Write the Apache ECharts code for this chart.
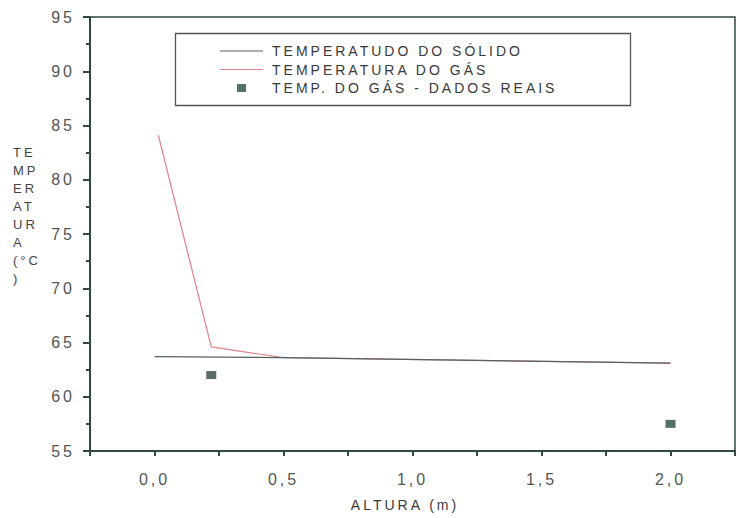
<!DOCTYPE html>
<html>
<head>
<meta charset="utf-8">
<script src="https://cdn.jsdelivr.net/npm/echarts@6/dist/echarts.min.js"></script>
<style>
  html, body { margin: 0; padding: 0; background: #fff; }
  #chart { width: 738px; height: 518px; }
  #chart text { letter-spacing: 3px; }
</style>
</head>
<body>
<div id="chart"></div>
<script>
// ---- data ----
const serieNames = ['TEMPERATUDO DO SÓLIDO', 'TEMPERATURA DO GÁS', 'TEMP. DO GÁS - DADOS REAIS'];
const alturaSolido = [0.0, 0.5, 2.0];
const tempSolido   = [63.7, 63.6, 63.1];
const alturaGas    = [0.015, 0.22, 0.5, 2.0];
const tempGas      = [84.1, 64.6, 63.6, 63.1];
const alturaReal   = [0.22, 2.0];
const tempReal     = [62.0, 57.5];
const xTickLabels  = ['0,0', '0,5', '1,0', '1,5', '2,0'];
const yTickLabels  = ['55', '60', '65', '70', '75', '80', '85', '90', '95'];
const xName = 'ALTURA (m)';
const yName = 'TE\nMP\nER\nAT\nUR\nA\n(°C\n)';

const pair = (xs, ys) => xs.map((x, i) => [x, ys[i]]);
const AX = '#2f4a45';
const FONT = '"Liberation Sans", Arial, sans-serif';
const LINE_ICON = 'path://M0,0M43,14M0,6.4h43v1.2h-43z';

const chart = echarts.init(document.getElementById('chart'), null, { renderer: 'svg' });
chart.setOption({
  backgroundColor: '#ffffff',
  animation: false,
  title: {
    text: yName, left: 13, top: 143, padding: 0,
    textStyle: { fontFamily: FONT, fontSize: 13, fontWeight: 'normal', color: '#444', lineHeight: 18 }
  },
  grid: { left: 90, right: -7, top: 17, bottom: 67, show: true, borderColor: AX, borderWidth: 1.5, backgroundColor: 'transparent' },
  graphic: [{
    type: 'rect', left: 173, top: 31, z: 0,
    shape: { width: 455, height: 72 },
    style: { fill: 'none', stroke: '#555', lineWidth: 1.3 }
  }],
  legend: {
    orient: 'vertical', left: 220, top: 44,
    itemWidth: 43, itemHeight: 14, itemGap: 4.5,
    padding: 0,
    textStyle: { fontFamily: FONT, fontSize: 14, color: '#3a3a3a', padding: [0, 0, 0, 4] },
    data: [
      { name: serieNames[0], icon: LINE_ICON },
      { name: serieNames[1], icon: LINE_ICON },
      { name: serieNames[2], icon: 'path://M0,0M43,14M17,3h9v8h-9z' }
    ]
  },
  xAxis: {
    type: 'value', min: -0.25, max: 2.25, interval: 0.25,
    name: xName, nameLocation: 'middle', nameGap: 47,
    nameTextStyle: { fontFamily: FONT, fontSize: 14, color: '#3a3a3a', padding: [0, 15, 0, 0] },
    axisLine: { onZero: false, lineStyle: { color: AX, width: 2 } },
    axisTick: { show: true, inside: false, length: 5, lineStyle: { color: AX, width: 2 } },
    splitLine: { show: false },
    axisLabel: {
      margin: 20, fontFamily: FONT, fontSize: 16, color: '#555',
      formatter: v => {
        const k = Math.round(v * 2);
        if (Math.abs(v * 2 - k) > 1e-6 || k < 0 || k >= xTickLabels.length) return '';
        return xTickLabels[k];
      }
    }
  },
  yAxis: {
    type: 'value', min: 55, max: 95, interval: 5,
    axisLine: { show: true, onZero: false, lineStyle: { color: AX, width: 2 } },
    axisTick: { show: true, inside: false, length: 7, lineStyle: { color: AX, width: 2 } },
    minorTick: { show: true, splitNumber: 2, length: 4, lineStyle: { color: AX, width: 2 } },
    splitLine: { show: false },
    axisLabel: {
      margin: 15, fontFamily: FONT, fontSize: 16, color: '#555',
      formatter: v => yTickLabels[Math.round((v - 55) / 5)] || ''
    }
  },
  series: [
    {
      name: serieNames[1], type: 'line', data: pair(alturaGas, tempGas),
      symbol: 'none', lineStyle: { color: '#e08589', width: 1.2 }, itemStyle: { color: '#e08589' }, z: 2
    },
    {
      name: serieNames[0], type: 'line', data: pair(alturaSolido, tempSolido),
      symbol: 'none', lineStyle: { color: '#56625f', width: 1.2 }, itemStyle: { color: '#56625f' }, z: 3
    },
    {
      name: serieNames[2], type: 'scatter', data: pair(alturaReal, tempReal),
      symbol: 'rect', symbolSize: [10, 8], itemStyle: { color: '#2f4a45' }, z: 4
    }
  ]
});
</script>
</body>
</html>
